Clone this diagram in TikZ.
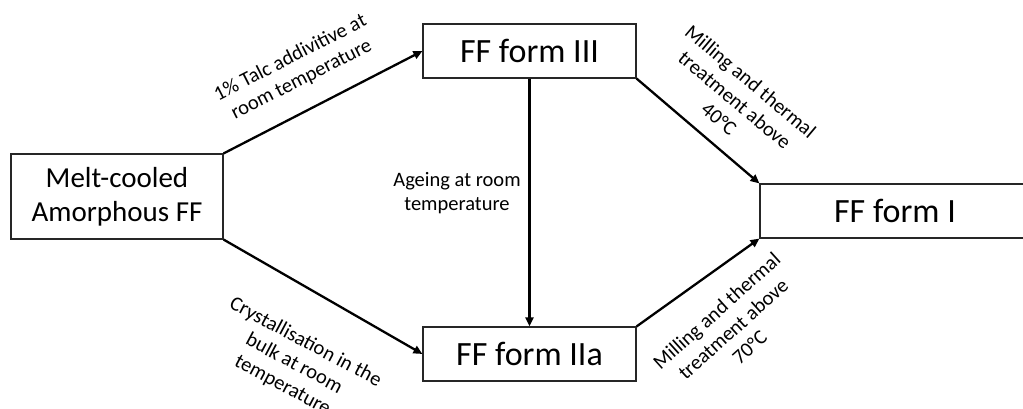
\documentclass[tikz,border=0pt]{standalone}
\usepackage{fontspec}
\setmainfont{Carlito}
\usetikzlibrary{arrows.meta}
\begin{document}
\begin{tikzpicture}[x=1pt,y=-1pt,
  box/.style={draw=black!85,line width=1.1pt,fill=white,inner sep=0pt,align=center},
  bigtxt/.style={font=\fontsize{34}{40}\selectfont},
  midtxt/.style={font=\fontsize{29}{34}\selectfont},
  lbl/.style={align=center,inner sep=0pt,font=\fontsize{20.5}{24.5}\selectfont},
  conn/.style={line width=2.3pt,-{Triangle[length=9pt,width=8pt]}}]
\clip (0,0) rectangle (1023,409);
\fill[white] (0,0) rectangle (1023,409);
% process states
\node[box,midtxt,minimum width=212pt,minimum height=85pt] (melt) at (117,196.5) {Melt-cooled\\Amorphous FF};
\node[box,bigtxt,minimum width=213pt,minimum height=54pt] (iii) at (529.5,51) {FF form III};
\node[box,bigtxt,minimum width=213pt,minimum height=54pt] (iia) at (529.5,354) {FF form IIa};
\node[box,bigtxt,minimum width=270pt,minimum height=54pt] (fi) at (895,211) {FF form I};
% transformations
\draw[conn] (melt.north east) -- (iii.west);
\draw[conn] (melt.south east) -- (iia.west);
\draw[conn] (iii.south) -- (iia.north);
\draw[conn] (iii.south east) -- (fi.north west);
\draw[conn] (iia.north east) -- (fi.south west);
% conditions
\node[lbl,rotate=27] (l1) at (296,69) {1\% Talc addivitive at\\room temperature};
\node[lbl,rotate=-28] (l2) at (294,364) {Crystallisation in the\\bulk at room\\temperature};
\node[lbl] (l3) at (457,193) {Ageing at room\\temperature};
\node[lbl,rotate=-40] (l4) at (735,100) {Milling and thermal\\treatment above\\40°C};
\node[lbl,rotate=42] (l5) at (733,329) {Milling and thermal\\treatment above\\70°C};
\end{tikzpicture}
\end{document}
